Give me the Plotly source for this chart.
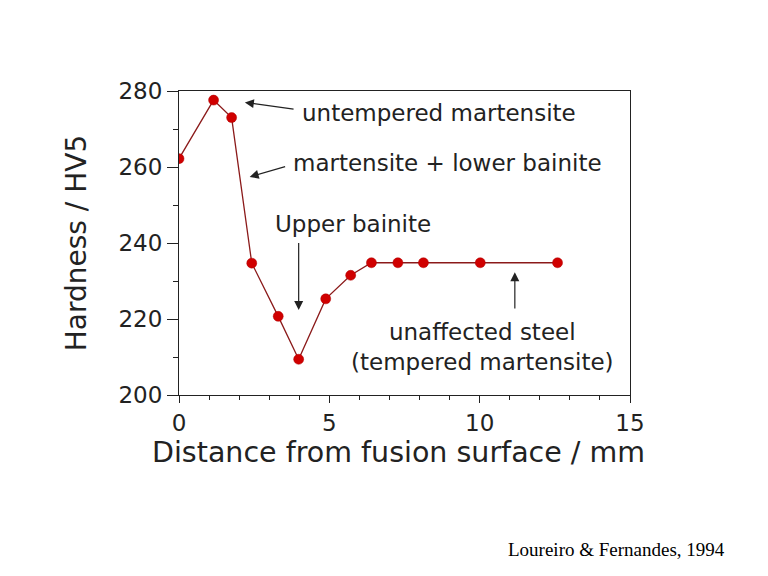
import plotly.graph_objects as go

distance_mm = [0.0, 1.15, 1.75, 2.42, 3.30, 3.98, 4.88, 5.71, 6.40, 7.28, 8.13, 10.02, 12.59]
hardness_hv5 = [262.2, 277.6, 273.0, 234.7, 220.7, 209.4, 225.3, 231.5, 234.8, 234.8, 234.8, 234.8, 234.8]

x_ticks = [0, 5, 10, 15]
y_ticks = [200, 220, 240, 260, 280]

FONT = "DejaVu Sans"

fig = go.Figure()
fig.add_trace(go.Scatter(
    x=distance_mm, y=hardness_hv5, mode="lines+markers",
    line=dict(color="#8b1a1a", width=1.3),
    marker=dict(color="#d00000", size=10, line=dict(color="#b00000", width=0.5)),
    showlegend=False, hoverinfo="x+y",
))

axis_common = dict(
    showline=True, linecolor="#222222", linewidth=1, mirror=True,
    ticks="outside", tickcolor="#222222", tickwidth=1,
    showgrid=False, zeroline=False,
    tickfont=dict(family=FONT, size=23, color="#222222"),
)

fig.update_xaxes(
    range=[0, 15], tickvals=x_ticks, ticktext=[str(v) for v in x_ticks], ticklen=7,
    minor=dict(dtick=1, ticks="outside", ticklen=4, tickcolor="#222222"),
    **axis_common,
)
fig.update_yaxes(
    range=[200, 280], tickvals=y_ticks, ticktext=[str(v) for v in y_ticks], ticklen=11,
    minor=dict(dtick=10, ticks="outside", ticklen=5, tickcolor="#222222"),
    title=dict(text="Hardness / HV5", font=dict(family=FONT, size=28, color="#222222"), standoff=23),
    **axis_common,
)

# x-axis title placed as annotation (slightly left of axis centre, as in the reference)
fig.add_annotation(
    x=0.487, y=-0.19, xref="paper", yref="paper", text="Distance from fusion surface / mm",
    showarrow=False, font=dict(family=FONT, size=28.5, color="#222222"),
    xanchor="center", yanchor="middle",
)

ann_font = dict(family=FONT, size=23, color="#222222")

def arrow(x_head, y_head, x_tail, y_tail):
    fig.add_annotation(
        x=x_head, y=y_head, ax=x_tail, ay=y_tail,
        xref="x", yref="y", axref="x", ayref="y",
        text="", showarrow=True, arrowhead=2, arrowsize=1.5, arrowwidth=1.2, arrowcolor="#222222",
    )

def label(x, y, text, xanchor="left"):
    fig.add_annotation(x=x, y=y, xref="x", yref="y", text=text, showarrow=False,
                       xanchor=xanchor, yanchor="middle", font=ann_font, align="center")

arrow(2.19, 277.0, 3.86, 275.2)
label(4.02, 274.3, "untempered martensite")

arrow(2.35, 257.4, 3.58, 260.2)
label(3.71, 261.1, "martensite + lower bainite")

label(5.8, 244.9, "Upper bainite", xanchor="center")
arrow(3.98, 222.4, 3.98, 240.4)

arrow(11.17, 232.3, 11.17, 222.4)
label(10.1, 212.75, "unaffected steel<br>(tempered martensite)", xanchor="center")

fig.add_annotation(
    x=1.215, y=-0.507, xref="paper", yref="paper", text="Loureiro &amp; Fernandes, 1994",
    showarrow=False, font=dict(family="Liberation Serif", size=19, color="black"),
    xanchor="right", yanchor="middle",
)

fig.update_layout(
    width=760, height=568,
    margin=dict(l=171, r=138, t=83, b=181, autoexpand=False),
    paper_bgcolor="white", plot_bgcolor="white",
)

fig.write_html("out.html")
